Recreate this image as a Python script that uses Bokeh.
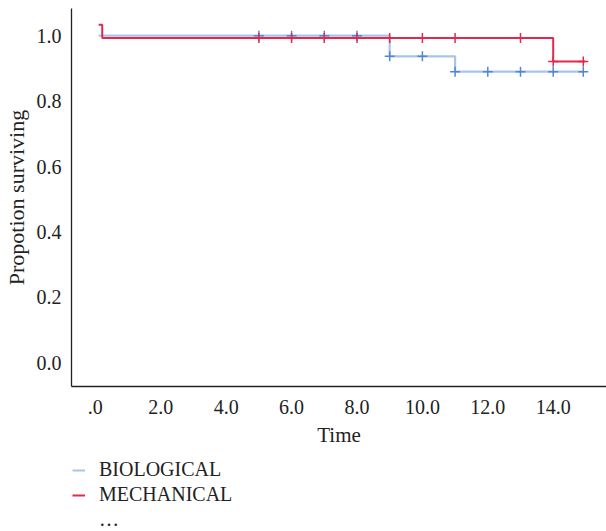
from bokeh.plotting import figure
from bokeh.layouts import column
from bokeh.models import Legend, LegendItem, FixedTicker, NumeralTickFormatter, Range1d
from bokeh.embed import file_html
from bokeh.resources import INLINE

# --- data ---
bio_time = [0.1, 9.0, 11.0, 14.92]
bio_surv = [1.0, 0.937, 0.89, 0.89]
mech_time = [0.1, 0.21, 14.0, 14.98]
mech_surv = [1.033, 0.993, 0.921, 0.921]

bio_cens_time = [5, 6, 7, 8, 9, 10, 11, 12, 13, 14, 14.92]
bio_cens_surv = [1.0, 1.0, 1.0, 1.0, 0.937, 0.937, 0.89, 0.89, 0.89, 0.89, 0.89]
mech_cens_time = [5, 6, 7, 8, 9, 10, 11, 13, 14, 14.92]
mech_cens_surv = [0.993, 0.993, 0.993, 0.993, 0.993, 0.993, 0.993, 0.993, 0.921, 0.921]

x_ticks = [0, 2, 4, 6, 8, 10, 12, 14]
x_tick_labels = [".0", "2.0", "4.0", "6.0", "8.0", "10.0", "12.0", "14.0"]
y_ticks = [0.0, 0.2, 0.4, 0.6, 0.8, 1.0]
series_names = ["BIOLOGICAL", "MECHANICAL", "\u2026"]

FONT = "Liberation Serif"
BLUE_LINE = "#a7c5ea"
BLUE_MARK = "#4f88d2"
RED = "#e3284f"
TEXT = "#222222"

p = figure(width=606, height=449, output_backend="svg", toolbar_location=None,
           x_range=Range1d(-0.73, 15.63), y_range=Range1d(-0.072, 1.083),
           min_border_left=71, min_border_right=0, min_border_top=8, min_border_bottom=0)
p.outline_line_color = None
p.xgrid.visible = False
p.ygrid.visible = False

p.step(bio_time, bio_surv, mode="after", line_color=BLUE_LINE, line_width=2.2)
p.step(mech_time, mech_surv, mode="after", line_color=RED, line_width=2)
p.scatter(bio_cens_time, bio_cens_surv, marker="cross", size=10, line_color=BLUE_MARK, line_width=1.5)
p.scatter(mech_cens_time, mech_cens_surv, marker="cross", size=10, line_color=RED, line_width=1.5)

for ax in (p.xaxis[0], p.yaxis[0]):
    ax.major_tick_line_color = None
    ax.minor_tick_line_color = None
    ax.major_tick_out = 0
    ax.major_tick_in = 0
    ax.minor_tick_out = 0
    ax.minor_tick_in = 0
    ax.axis_line_color = TEXT
    ax.axis_line_width = 1.3
    ax.major_label_text_font = FONT
    ax.major_label_text_font_size = "20px"
    ax.major_label_text_color = TEXT
    ax.axis_label_text_font = FONT
    ax.axis_label_text_font_style = "normal"
    ax.axis_label_text_color = TEXT

p.xaxis.ticker = FixedTicker(ticks=x_ticks)
p.xaxis.major_label_overrides = dict(zip(x_ticks, x_tick_labels))
p.xaxis.axis_label = "Time"
p.xaxis.axis_label_text_font_size = "21px"
p.xaxis.major_label_standoff = 13
p.xaxis.axis_label_standoff = 6

p.yaxis.ticker = FixedTicker(ticks=y_ticks)
p.yaxis.formatter = NumeralTickFormatter(format="0.0")
p.yaxis.axis_label = "Propotion surviving"
p.yaxis.axis_label_text_font_size = "22px"
p.yaxis.major_label_standoff = 10
p.yaxis.axis_label_standoff = 5

# legend strip below the chart
lg = figure(width=606, height=82, output_backend="svg", toolbar_location=None,
            x_range=Range1d(0, 1), y_range=Range1d(0, 1),
            x_axis_type=None, y_axis_type=None,
            min_border_left=0, min_border_right=0, min_border_top=0, min_border_bottom=0)
lg.outline_line_color = None
lg.xgrid.visible = False
lg.ygrid.visible = False
r_bio = lg.step(bio_time, bio_surv, mode="after", line_color=BLUE_LINE, line_width=2, visible=False)
r_mech = lg.step(mech_time, mech_surv, mode="after", line_color=RED, line_width=2, visible=False)
r_more = lg.line(bio_time, bio_surv, line_alpha=0, visible=False)

legend = Legend(items=[LegendItem(label=series_names[0], renderers=[r_bio]),
                       LegendItem(label=series_names[1], renderers=[r_mech]),
                       LegendItem(label=series_names[2], renderers=[r_more])],
                location=(1, 0), orientation="vertical",
                label_text_font=FONT, label_text_font_size="20px", label_text_color=TEXT,
                glyph_width=13, glyph_height=20, label_height=20, spacing=2,
                label_standoff=14, padding=0, margin=0,
                inactive_fill_alpha=0,
                border_line_alpha=0, background_fill_alpha=0)
lg.add_layout(legend)

layout = column(p, lg, spacing=0)
open("out.html", "w").write(file_html(layout, INLINE))
